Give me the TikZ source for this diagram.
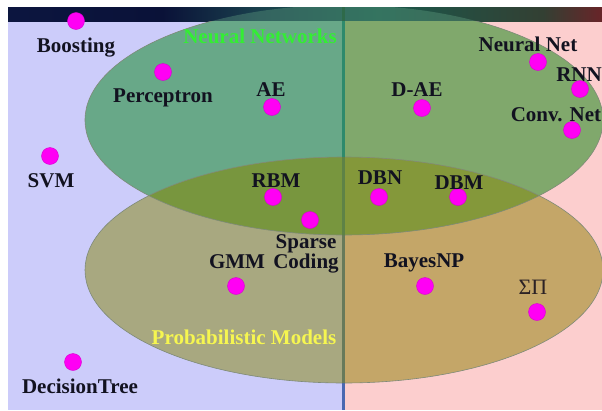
\documentclass[tikz,border=0pt]{standalone}
\usepackage{fontspec}
\setmainfont{Liberation Serif}

% region colours
\definecolor{lav}{HTML}{CCCCFA}
\definecolor{pinkbg}{HTML}{FCCECE}
\definecolor{nnL}{HTML}{68A888}
\definecolor{nnR}{HTML}{80A86C}
\definecolor{pmL}{HTML}{A8A880}
\definecolor{pmR}{HTML}{C4A668}
\definecolor{ixL}{HTML}{78963E}
\definecolor{ixR}{HTML}{84983A}
\definecolor{rimc}{HTML}{7E8A78}
\definecolor{dotc}{HTML}{FF00F4}
\definecolor{dotrim}{HTML}{D800D0}
\definecolor{ink}{HTML}{121220}
\definecolor{nngreen}{HTML}{33EE33}
\definecolor{pmyellow}{HTML}{F6F650}
\definecolor{divBlue}{HTML}{4A68B0}
\definecolor{divNN}{HTML}{2E8A6C}
\definecolor{divPM}{HTML}{687A5A}
\definecolor{divIX}{HTML}{5E8246}
\definecolor{divTop}{HTML}{2E6A4A}

% dark banner strip along the top edge
\pgfdeclarehorizontalshading{bandshade}{100bp}{%
  rgb(0bp)=(0.03,0.05,0.17);
  rgb(20bp)=(0.05,0.09,0.26);
  rgb(38bp)=(0.04,0.07,0.22);
  rgb(46bp)=(0.10,0.25,0.30);
  rgb(56bp)=(0.10,0.35,0.30);
  rgb(70bp)=(0.20,0.25,0.20);
  rgb(76bp)=(0.45,0.12,0.15);
  rgb(79bp)=(0.70,0.50,0.50);
  rgb(82bp)=(0.60,0.12,0.12);
  rgb(90bp)=(0.66,0.20,0.10);
  rgb(100bp)=(0.72,0.32,0.08)}

\tikzset{
  mdot/.style={circle, fill=dotc, draw=dotrim, line width=0.4pt,
               minimum size=17pt, inner sep=0pt},
  lbl/.style={anchor=base, text=ink, inner sep=0pt,
              font=\fontsize{21}{23}\selectfont\bfseries},
  title/.style={anchor=base, inner sep=0pt,
                font=\fontsize{21}{23}\selectfont\bfseries},
}

\def\nnEll{(344,120) ellipse [x radius=259pt, y radius=115pt]}
\def\pmEll{(344,270) ellipse [x radius=259pt, y radius=113pt]}

\begin{document}
\begin{tikzpicture}[x=1pt, y=-1pt]
\useasboundingbox (0,0) rectangle (602,410);
\fill[white] (0,0) rectangle (602,410);

% backgrounds
\fill[lav] (8,21) rectangle (343.5,410);
\fill[pinkbg] (343.5,21) rectangle (602,410);
\shade[shading=bandshade] (8,7) rectangle (602,21);

% ellipse seen through the banner
\begin{scope}
  \clip (8,7) rectangle (602,21);
  \fill[nnL, opacity=0.35] \nnEll;
\end{scope}

% left half
\begin{scope}
  \clip (8,21) rectangle (343.5,410);
  \fill[nnL] \nnEll;
  \fill[pmL] \pmEll;
  \begin{scope}
    \clip \nnEll;
    \fill[ixL] \pmEll;
  \end{scope}
\end{scope}

% right half
\begin{scope}
  \clip (343.5,21) rectangle (602,410);
  \fill[nnR] \nnEll;
  \fill[pmR] \pmEll;
  \begin{scope}
    \clip \nnEll;
    \fill[ixR] \pmEll;
  \end{scope}
\end{scope}

% ellipse rims
\begin{scope}
  \clip (8,21) rectangle (602,410);
  \draw[rimc, line width=0.6pt] \nnEll;
  \draw[rimc, line width=0.6pt] \pmEll;
\end{scope}

% divider
\coordinate (divtop) at (343.5,7);
\coordinate (divmid) at (343.5,21);
\coordinate (divbot) at (343.5,410);
\draw[divTop, line width=3pt] (divtop) -- (divmid);
\draw[divBlue, line width=3pt] (divmid) -- (divbot);
\begin{scope}
  \clip \nnEll;
  \clip (8,21) rectangle (602,410);
  \draw[divNN, line width=3pt] (divmid) -- (divbot);
\end{scope}
\begin{scope}
  \clip \pmEll;
  \draw[divPM, line width=3pt] (divmid) -- (divbot);
\end{scope}
\begin{scope}
  \clip \pmEll;
  \clip \nnEll;
  \draw[divIX, line width=3pt] (divmid) -- (divbot);
\end{scope}

% set titles
\node[title, text=nngreen] (nntitle) at (260,43) {Neural Networks};
\node[title, text=pmyellow] (pmtitle) at (244,344) {Probabilistic Models};

% methods
\node[mdot] (boostD) at (76,21) {};
\node[lbl] (boostL) at (76,52) {Boosting};

\node[mdot] (percD) at (163,72) {};
\node[lbl] (percL) at (163,102) {Perceptron};

\node[mdot] (aeD) at (272,107) {};
\node[lbl] (aeL) at (271,96) {AE};

\node[mdot] (svmD) at (50,156) {};
\node[lbl] (svmL) at (51,187) {SVM};

\node[mdot] (nnetD) at (538,62) {};
\node[lbl] (nnetL) at (528,51) {Neural Net};

\node[mdot] (rnnD) at (580,89) {};
\node[lbl] (rnnL) at (579,81) {RNN};

\node[mdot] (daeD) at (422,108) {};
\node[lbl] (daeL) at (417,96) {D-AE};

\node[mdot] (convD) at (572,130) {};
\node[lbl] (convL) at (556,121) {Conv. Net};

\node[mdot] (rbmD) at (273,197) {};
\node[lbl] (rbmL) at (276,187) {RBM};

\node[mdot] (dbnD) at (379,197) {};
\node[lbl] (dbnL) at (380,184) {DBN};

\node[mdot] (dbmD) at (458,197) {};
\node[lbl] (dbmL) at (459,189) {DBM};

\node[mdot] (spD) at (310,220) {};
\node[lbl] (spL1) at (306,248) {Sparse};
\node[lbl] (spL2) at (306,268) {Coding};

\node[mdot] (gmmD) at (236,286) {};
\node[lbl] (gmmL) at (237,268) {GMM};

\node[mdot] (bnpD) at (425,286) {};
\node[lbl] (bnpL) at (424,267) {BayesNP};

\node[mdot] (spnD) at (537,312) {};
\node[anchor=base, inner sep=0pt, text=ink!85!brown,
      font=\fontsize{22}{24}\selectfont] (spnL) at (533,294) {ΣΠ};

\node[mdot] (dtD) at (73,362) {};
\node[lbl] (dtL) at (80,393) {DecisionTree};
\end{tikzpicture}
\end{document}
